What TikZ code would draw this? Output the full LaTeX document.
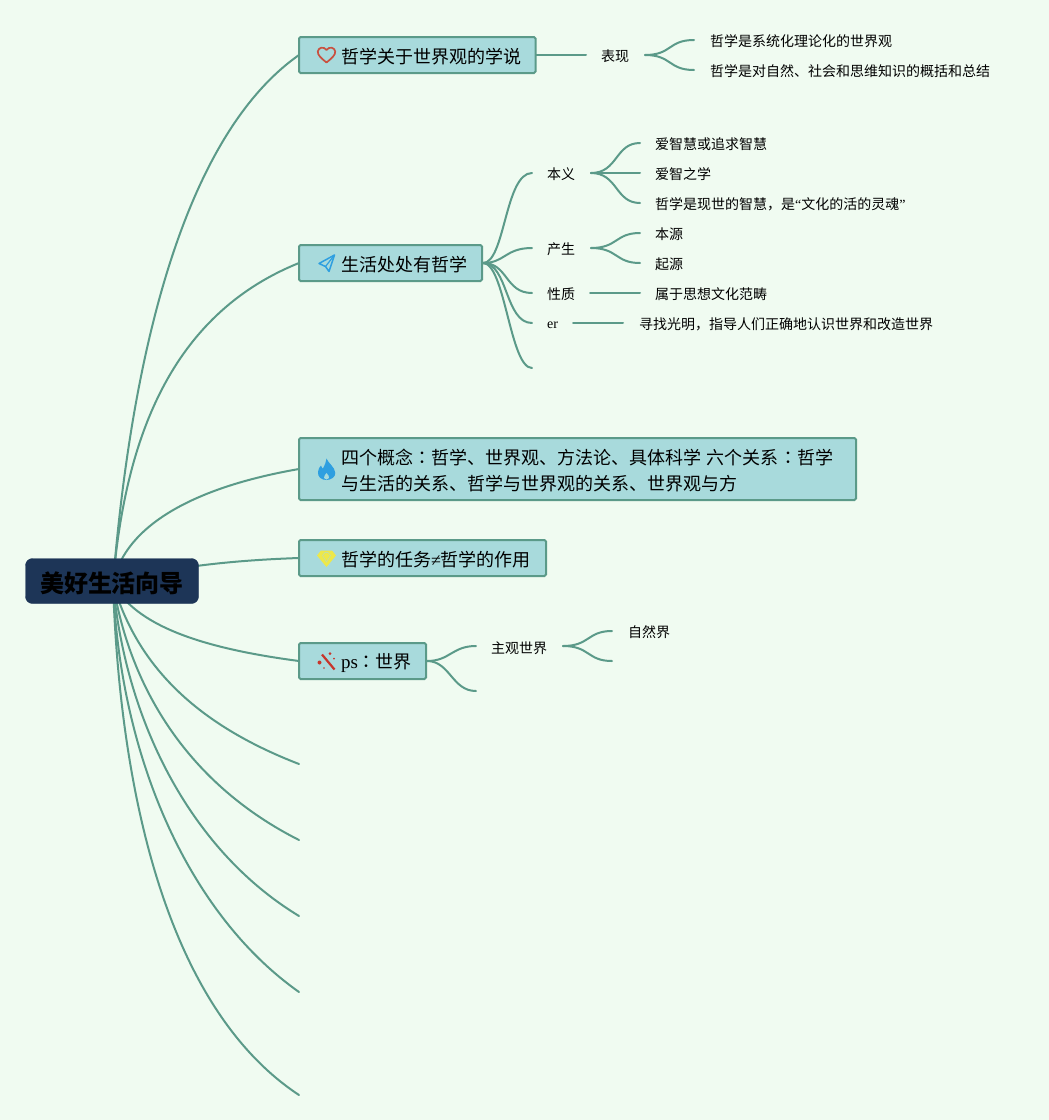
\documentclass[tikz,border=0pt]{standalone}
\usepackage{fontspec}
\setmainfont{Liberation Serif}
\newfontfamily\cjk{Noto Sans CJK SC}
\newfontfamily\cjktc{Noto Sans CJK TC}
\usetikzlibrary{backgrounds}
\definecolor{bgc}{HTML}{F0FBF1}
\definecolor{linkc}{HTML}{5B9A89}
\definecolor{boxc}{HTML}{A8DADC}
\definecolor{rootc}{HTML}{1D3557}
\definecolor{heartc}{HTML}{C9503F}
\definecolor{bluec}{HTML}{2E9FE0}
\definecolor{yelc}{HTML}{EDE84A}
\definecolor{wandc}{HTML}{C8352B}
\newcommand\dn[1]{\hspace*{42pt}\raisebox{-1.6pt}[\height][\depth]{#1}}
\newcommand\cln{{\cjktc ：}}
\tikzset{
  x=1pt,y=-1pt,
  link/.style={draw=linkc,line width=2pt,line cap=round},
  rootbox/.style={fill=rootc,draw=rootc,rounded corners=7pt,minimum width=173pt,minimum height=45pt,inner sep=0pt,font=\fontsize{24}{28}\selectfont\cjk\bfseries,text=black},
  topic/.style={fill=boxc,draw=linkc,line width=2pt,rounded corners=1.5pt,inner sep=0pt,outer sep=0pt,anchor=west,align=left,font=\fontsize{18}{26}\selectfont\cjk,text=black},
  sub/.style={inner sep=0pt,anchor=west,font=\fontsize{14}{16}\selectfont\cjk,text=black},
  smallroman/.style={inner sep=0pt,anchor=west,font=\fontsize{14}{16}\selectfont,text=black}
}
\begin{document}
\begin{tikzpicture}
\useasboundingbox (0,0) rectangle (1049,1120);
% root
\node[rootbox] (root) at (112,581) {\raisebox{-2pt}[\height][\depth]{美好生活向导}};
% topics
\node[topic,minimum height=36pt,text width=236.5pt] (t1) at (299,55) {\dn{哲学关于世界观的学说}};
\node[topic,minimum height=36pt,text width=183pt] (t2) at (299,263) {\dn{生活处处有哲学}};
\node[topic,minimum height=62pt,text width=557pt] (t3) at (299,469) {\dn{四个概念\cln 哲学、世界观、方法论、具体科学 六个关系\cln 哲学}\\\dn{与生活的关系、哲学与世界观的关系、世界观与方}};
\node[topic,minimum height=36pt,text width=247pt] (t4) at (299,558) {\dn{哲学的任务{\rmfamily\fontsize{18}{18}\selectfont ≠}哲学的作用}};
\node[topic,minimum height=36pt,text width=127pt] (t5) at (299,661) {\dn{{\rmfamily\fontsize{19}{26}\selectfont ps}\cln 世界}};
% free ends
\coordinate (e1) at (299,764);
\coordinate (e2) at (299,840);
\coordinate (e3) at (299,916);
\coordinate (e4) at (299,992);
\coordinate (e5) at (299,1095);
% level 2 and 3
\node[sub] (biao) at (601,56) {表现};
\node[sub] (b1) at (710,41) {哲学是系统化理论化的世界观};
\node[sub] (b2) at (710,71) {哲学是对自然、社会和思维知识的概括和总结};
\node[sub] (ben) at (547,174) {本义};
\node[sub] (ben1) at (655,144) {爱智慧或追求智慧};
\node[sub] (ben2) at (655,174) {爱智之学};
\node[sub] (ben3) at (655,204) {哲学是现世的智慧，是{\rmfamily“}文化的活的灵魂{\rmfamily”}};
\node[sub] (chan) at (547,249) {产生};
\node[sub] (chan1) at (655,234) {本源};
\node[sub] (chan2) at (655,264) {起源};
\node[sub] (xing) at (547,294) {性质};
\node[sub] (xing1) at (655,294) {属于思想文化范畴};
\node[smallroman] (er) at (547,324) {\raisebox{-1.5pt}[\height][\depth]{er}};
\node[sub] (er1) at (639,324) {寻找光明，指导人们正确地认识世界和改造世界};
\coordinate (blank) at (532,368);
\node[sub] (zhu) at (491,648) {主观世界};
\node[sub] (zi) at (628,632) {自然界};
\coordinate (zi2) at (612,661);
\coordinate (zhu2) at (476,691);
\begin{pgfonlayer}{background}
\fill[bgc] (0,0) rectangle (1049,1120);
% root links
\coordinate (rc) at (113,583);
\draw[link] (rc) .. controls (132,350) and (185,135) .. (t1.west);
\draw[link] (rc) .. controls (125,440) and (170,315) .. (t2.west);
\draw[link] (rc) .. controls (125,525) and (195,487) .. (t3.west);
\draw[link] (rc) .. controls (170,566) and (240,560) .. (t4.west);
\draw[link] (rc) .. controls (135,625) and (200,648) .. (t5.west);
\draw[link] (rc) .. controls (135,660) and (190,722) .. (e1);
\draw[link] (rc) .. controls (130,690) and (190,785) .. (e2);
\draw[link] (rc) .. controls (125,720) and (190,850) .. (e3);
\draw[link] (rc) .. controls (120,760) and (190,915) .. (e4);
\draw[link] (rc) .. controls (120,800) and (170,1010) .. (e5);
% topic 1
\coordinate (b0) at (586,55);
\coordinate (b9) at (645,55);
\draw[link] (t1.east) -- (b0);
\draw[link] (b9) .. controls (672,55) and (668,40) .. ([xshift=-16pt,yshift=1pt]b1.west);
\draw[link] (b9) .. controls (672,55) and (668,70) .. ([xshift=-16pt,yshift=1pt]b2.west);
% topic 2
\coordinate (t2r) at (483,263);
\draw[link] (t2r) .. controls (505,263) and (505,173) .. ([xshift=-15pt,yshift=1pt]ben.west);
\draw[link] (t2r) .. controls (505,263) and (505,248) .. ([xshift=-15pt,yshift=1pt]chan.west);
\draw[link] (t2r) .. controls (508,263) and (505,293) .. ([xshift=-15pt,yshift=1pt]xing.west);
\draw[link] (t2r) .. controls (508,263) and (505,323) .. ([xshift=-15pt,yshift=1pt]er.west);
\draw[link] (t2r) .. controls (505,263) and (510,368) .. (blank);
% ben
\coordinate (benr) at (591,173);
\draw[link] (benr) .. controls (618,173) and (615,143) .. ([xshift=-15pt,yshift=1pt]ben1.west);
\draw[link] (benr) -- ([xshift=-15pt,yshift=1pt]ben2.west);
\draw[link] (benr) .. controls (618,173) and (615,203) .. ([xshift=-15pt,yshift=1pt]ben3.west);
% chan
\coordinate (chanr) at (591,248);
\draw[link] (chanr) .. controls (618,248) and (615,233) .. ([xshift=-15pt,yshift=1pt]chan1.west);
\draw[link] (chanr) .. controls (618,248) and (615,263) .. ([xshift=-15pt,yshift=1pt]chan2.west);
% xing, er
\draw[link] ([xshift=43pt,yshift=1pt]xing.west) -- ([xshift=-15pt,yshift=1pt]xing1.west);
\draw[link] ([xshift=26pt,yshift=1pt]er.west) -- ([xshift=-16pt,yshift=1pt]er1.west);
% topic 5
\coordinate (t5r) at (427,661);
\draw[link] (t5r) .. controls (450,661) and (452,646) .. ([xshift=-15pt,yshift=2pt]zhu.west);
\draw[link] (t5r) .. controls (450,661) and (452,691) .. (zhu2);
\coordinate (zhur) at (563,646);
\draw[link] (zhur) .. controls (590,646) and (587,631) .. ([xshift=-16pt,yshift=1pt]zi.west);
\draw[link] (zhur) .. controls (590,646) and (587,661) .. (zi2);
\end{pgfonlayer}
% icons
% heart
\draw[heartc,line width=1.7pt,line join=round] (326.5,62.5) .. controls (321,58) and (317.5,55) .. (317.8,51.5) .. controls (318,47.5) and (324,46) .. (326.5,50) .. controls (329,46) and (335,47.5) .. (335.2,51.5) .. controls (335.5,55) and (332,58) .. cycle;
% plane
\draw[bluec,line width=1.5pt,line join=round] (334.5,255) -- (319,263.5) -- (325.5,266.5) -- (329,271.5) -- cycle;
\draw[bluec,line width=1.2pt] (325.5,266.5) -- (334.5,255);
% flame
\fill[bluec] (326.5,458.5) .. controls (328,463) and (335,467) .. (335.3,473) .. controls (335.5,477) and (331,480) .. (326.5,480) .. controls (321.5,480) and (317.5,477) .. (318,472) .. controls (318.2,469) and (319.5,467) .. (321,465.5) .. controls (321.5,467) and (322,468) .. (323,468.5) .. controls (324.5,465) and (326.5,462) .. cycle;
\fill[boxc] (326.5,473) .. controls (328,475) and (329.5,476) .. (329,478) .. controls (328,480) and (325,480) .. (324,478) .. controls (323.5,476) and (325.5,475) .. cycle;
% diamond
\fill[yelc] (321,550.5) -- (332,550.5) -- (336,555.5) -- (326.5,567) -- (317,555.5) -- cycle;
\draw[boxc!60!yelc,line width=.6pt] (322.5,555.5) -- (326.5,562) -- (330.5,555.5) -- (328,552.5) -- (325,552.5) -- cycle;
% wand
\draw[wandc,line width=2.2pt] (322,654.5) -- (334.5,669.5);
\fill[wandc] (319.5,662.5) circle (2pt) (330,653.5) circle (1.5pt) (334,658.5) circle (1pt) (324,668) circle (.9pt);
\end{tikzpicture}
\end{document}
